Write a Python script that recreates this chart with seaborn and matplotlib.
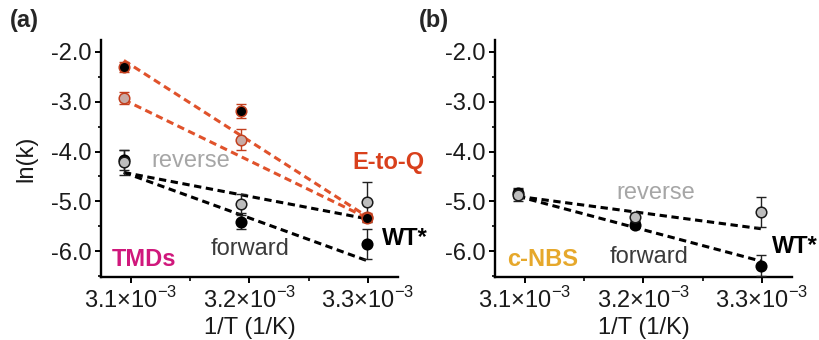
import matplotlib
matplotlib.use("Agg")
import matplotlib.pyplot as plt
import seaborn as sns
from matplotlib.ticker import FixedLocator

# 1/T values of the three temperatures
inv_T = [3.094e-3, 3.193e-3, 3.299e-3]
fit_x = [3.094e-3, 3.299e-3]
xtick_pos = [3.1e-3, 3.2e-3, 3.3e-3]
xtick_lab = [r"3.1×10$^{-3}$", r"3.2×10$^{-3}$", r"3.3×10$^{-3}$"]
ytick_pos = [-2.0, -3.0, -4.0, -5.0, -6.0]

# (a) TMDs
a_eq_fwd = [-2.31, -3.19, -5.33]
a_eq_fwd_err = [0.10, 0.14, 0.08]
a_eq_rev = [-2.93, -3.76, -5.31]
a_eq_rev_err = [0.12, 0.21, 0.08]
a_wt_fwd = [-4.17, -5.41, -5.86]
a_wt_fwd_err = [0.20, 0.14, 0.30]
a_wt_rev = [-4.22, -5.05, -5.01]
a_wt_rev_err = [0.26, 0.19, 0.40]
a_fit_eq_fwd = [-2.17, -5.30]
a_fit_eq_rev = [-2.96, -5.33]
a_fit_wt_fwd = [-4.42, -6.19]
a_fit_wt_rev = [-4.42, -5.35]

# (b) c-NBS
b_wt_fwd = [-4.83, -5.48, -6.29]
b_wt_fwd_err = [0.10, 0.06, 0.21]
b_wt_rev = [-4.87, -5.31, -5.21]
b_wt_rev_err = [0.12, 0.08, 0.30]
b_fit_wt_fwd = [-4.90, -6.20]
b_fit_wt_rev = [-4.90, -5.55]

RED = "#e0522b"
RED_DARK = "#c2401f"
GRAY = "#bdbdbd"
FS = 17

sns.set_style("ticks")
plt.rcParams["font.family"] = ["Liberation Sans", "DejaVu Sans"]
plt.rcParams["mathtext.fontset"] = "custom"
plt.rcParams["mathtext.rm"] = "Liberation Sans"
plt.rcParams["axes.unicode_minus"] = False

fig = plt.figure(figsize=(8.19, 3.4), dpi=100)
ax_a = fig.add_axes([0.1233, 0.1853, 0.3626, 0.697])
ax_b = fig.add_axes([0.6044, 0.1853, 0.3626, 0.697])

DASH = (0, (2.4, 1.5))


def fit_line(ax, y, color):
    sns.lineplot(x=fit_x, y=y, color=color, lw=2.2, linestyle=DASH, ax=ax, zorder=2)


def points(ax, y, err, fill, edge, ecolor):
    ax.errorbar(inv_T, y, yerr=err, fmt="none", ecolor=ecolor, elinewidth=1.0,
                capsize=3.5, capthick=1.0, zorder=3)
    sns.scatterplot(x=inv_T, y=y, color=fill, edgecolor=edge, linewidth=1.1,
                    s=58, ax=ax, zorder=4)


# panel (a)
fit_line(ax_a, a_fit_wt_rev, "black")
fit_line(ax_a, a_fit_wt_fwd, "black")
fit_line(ax_a, a_fit_eq_rev, RED)
fit_line(ax_a, a_fit_eq_fwd, RED)
points(ax_a, a_wt_fwd, a_wt_fwd_err, "black", "black", "#222222")
points(ax_a, a_wt_rev, a_wt_rev_err, GRAY, "#1a1a1a", "#222222")
points(ax_a, a_eq_rev, a_eq_rev_err, "#c9aaa4", RED_DARK, RED_DARK)
points(ax_a, a_eq_fwd, a_eq_fwd_err, "black", RED_DARK, RED_DARK)

# panel (b)
fit_line(ax_b, b_fit_wt_rev, "black")
fit_line(ax_b, b_fit_wt_fwd, "black")
points(ax_b, b_wt_fwd, b_wt_fwd_err, "black", "black", "#222222")
points(ax_b, b_wt_rev, b_wt_rev_err, GRAY, "#1a1a1a", "#222222")

for ax in (ax_a, ax_b):
    ax.set_xlim(3.0747e-3, 3.3253e-3)
    ax.set_ylim(-6.52, -1.76)
    ax.set_xticks(xtick_pos)
    ax.set_xticklabels(xtick_lab)
    ax.xaxis.set_minor_locator(FixedLocator([3.15e-3, 3.25e-3]))
    ax.set_yticks(ytick_pos)
    ax.set_yticklabels([f"{v:.1f}" for v in ytick_pos])
    ax.yaxis.set_minor_locator(FixedLocator([-2.5, -3.5, -4.5, -5.5, -6.5]))
    ax.tick_params(which="major", length=4, width=1.4, labelsize=FS, pad=3,
                   color="black", labelcolor="#1a1a1a")
    ax.tick_params(which="minor", length=3, width=1.2, color="black")
    ax.tick_params(axis="y", which="minor", length=2)
    for s in ("left", "bottom"):
        ax.spines[s].set_linewidth(1.7)
        ax.spines[s].set_color("black")
    sns.despine(ax=ax)
    ax.set_xlabel("1/T (1/K)", fontsize=FS, color="#1a1a1a")
    ax.xaxis.set_label_coords(0.5, -0.17)
    ax.set_ylabel("")

ax_a.set_ylabel("ln(k)", fontsize=FS, color="#1a1a1a")
ax_a.yaxis.set_label_coords(-0.215, 0.5)

# annotations (a)
ax_a.text(3.1506e-3, -4.2, "reverse", color="#a6a6a6", fontsize=FS, ha="center", va="center")
ax_a.text(3.2004e-3, -5.96, "forward", color="#3a3a3a", fontsize=FS, ha="center", va="center")
ax_a.text(3.084e-3, -6.16, "TMDs", color="#d0187c", fontsize=FS, fontweight="bold", va="center")
ax_a.text(3.2865e-3, -4.22, "E-to-Q", color="#d9401c", fontsize=FS, fontweight="bold",
          va="center", clip_on=False)
ax_a.text(3.3118e-3, -5.74, "WT*", color="black", fontsize=FS, fontweight="bold",
          va="center", clip_on=False)

# annotations (b)
ax_b.text(3.2105e-3, -4.84, "reverse", color="#a6a6a6", fontsize=FS, ha="center", va="center")
ax_b.text(3.2046e-3, -6.12, "forward", color="#3a3a3a", fontsize=FS, ha="center", va="center")
ax_b.text(3.0848e-3, -6.16, "c-NBS", color="#e6a82b", fontsize=FS, fontweight="bold", va="center")
ax_b.text(3.3084e-3, -5.9, "WT*", color="black", fontsize=FS, fontweight="bold",
          va="center", clip_on=False)

fig.text(0.012, 0.94, "(a)", fontsize=FS, fontweight="bold", va="center")
fig.text(0.512, 0.94, "(b)", fontsize=FS, fontweight="bold", va="center")

plt.savefig("out.png", dpi=100)
